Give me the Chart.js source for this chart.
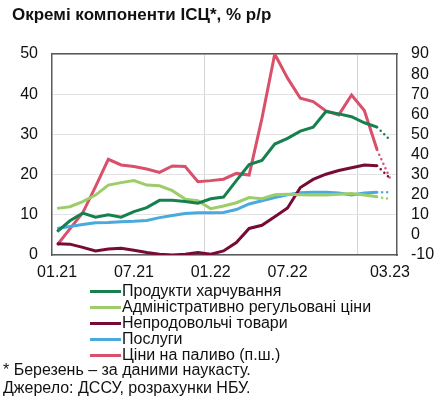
<!DOCTYPE html>
<html>
<head>
<meta charset="utf-8">
<script src="https://cdn.jsdelivr.net/npm/chart.js@4"></script>
<style>
  body { margin: 0; background: #fff; font-family: "Liberation Sans", Arial, sans-serif; color: #111; }
  #wrap { position: relative; width: 437px; height: 398px; }
  #title { position: absolute; left: 12px; top: 5px; font-size: 17px; font-weight: bold; line-height: 20px; }
  #box { position: absolute; left: 0; top: 0; width: 437px; height: 285px; }
  #legend { position: absolute; left: 90px; top: 283px; font-size: 16px; line-height: 16.1px; }
  #legend div { display: flex; align-items: center; }
  #legend span.sw { display: inline-block; width: 31px; height: 3px; margin-right: 1px; }
  .note { position: absolute; left: 3px; font-size: 16px; line-height: 18px; }
</style>
</head>
<body>
<div id="wrap">
  <div id="box"><canvas id="cpi_chart"></canvas></div>
  <div id="title">Окремі компоненти ІСЦ*, % р/р</div>
  <div id="legend"></div>
  <div class="note" style="top:361px">* Березень – за даними наукасту.</div>
  <div class="note" style="top:379px">Джерело: ДССУ, розрахунки НБУ.</div>
</div>
<script>
const months = [
  '01.21', '02.21', '03.21', '04.21', '05.21', '06.21', '07.21', '08.21', '09.21',
  '10.21', '11.21', '12.21', '01.22', '02.22', '03.22', '04.22', '05.22', '06.22',
  '07.22', '08.22', '09.22', '10.22', '11.22', '12.22', '01.23', '02.23', '03.23'
];
const shown_ticks = [0, 6, 12, 18, 26];
const year_lines = [11.5, 23.5];

// left axis, % y/y
const food = [5.8, 8.5, 10.4, 9.4, 10.0, 9.4, 10.8, 11.8, 13.6, 13.6, 13.3, 12.9, 14.0, 14.4, 18.5, 22.5, 23.5, 27.6, 29.0, 30.8, 31.8, 35.7, 35.1, 34.4, 32.9, 31.8, 28.6];
const admin = [11.6, 12.0, 13.3, 14.9, 17.4, 18.0, 18.5, 17.4, 17.2, 16.0, 13.9, 13.5, 11.5, 12.2, 13.0, 14.3, 14.0, 15.0, 15.1, 15.0, 14.9, 14.9, 15.1, 15.3, 14.9, 14.5, 13.9];
const nonfood = [2.8, 2.7, 1.9, 1.0, 1.5, 1.7, 1.2, 0.6, 0.2, 0.0, 0.2, 0.6, 0.2, 1.0, 3.1, 6.6, 7.4, 9.5, 11.7, 16.8, 18.8, 20.1, 21.0, 21.7, 22.4, 22.2, 19.1];
const services = [6.6, 7.1, 7.6, 8.0, 8.1, 8.3, 8.4, 8.6, 9.3, 9.8, 10.3, 10.5, 10.5, 10.6, 11.3, 12.7, 13.5, 14.3, 15.0, 15.5, 15.6, 15.6, 15.4, 14.9, 15.4, 15.6, 15.6];
// right axis
const fuel = [-5, 3, 11, 24, 37.6, 34.8, 34, 32.8, 31.1, 34.3, 34, 26.5, 27, 27.7, 30.6, 29.8, 58, 90, 78, 68, 66.3, 61.7, 59.7, 69.6, 61.9, 42.2, 28.2];

const series = [
  { label: 'Продукти харчування', values: food, color: '#17804f', axis: 'y' },
  { label: 'Адміністративно регульовані ціни', values: admin, color: '#9ccd68', axis: 'y' },
  { label: 'Непродовольчі товари', values: nonfood, color: '#780b35', axis: 'y' },
  { label: 'Послуги', values: services, color: '#4aaade', axis: 'y' },
  { label: 'Ціни на паливо (п.ш.)', values: fuel, color: '#d9506b', axis: 'y1' }
];

const last = months.length - 1;
const isNowcast = ctx => ctx.p1DataIndex === last;

const datasets = series.map(s => ({
  label: s.label,
  data: s.values.map((v, i) => ({ x: i, y: v })),
  yAxisID: s.axis,
  borderColor: s.color,
  borderWidth: 3,
  pointRadius: 0,
  tension: 0,
  segment: {
    borderDash: ctx => isNowcast(ctx) ? [0, 5] : undefined,
    borderCapStyle: ctx => isNowcast(ctx) ? 'round' : undefined,
    borderWidth: ctx => isNowcast(ctx) ? 2.5 : undefined
  }
}));

const tick_font = { family: '"Liberation Sans", Arial, sans-serif', size: 16 };
const frame = '#5a5a5a';

const config = {
  type: 'line',
  data: { datasets: datasets },
  options: {
    responsive: true,
    maintainAspectRatio: false,
    animation: false,
    layout: { padding: { top: 54, bottom: 0, left: 0, right: 0 } },
    plugins: { legend: { display: false }, tooltip: { enabled: false } },
    scales: {
      x: {
        type: 'linear',
        min: -0.4,
        max: 26.55,
        afterBuildTicks: scale => { scale.ticks = shown_ticks.map(v => ({ value: v })); },
        afterFit: scale => { scale.height = 30; },
        ticks: {
          autoSkip: false,
          maxRotation: 0,
          padding: 8,
          color: '#111',
          font: tick_font,
          callback: v => months[v]
        },
        grid: { display: false, drawTicks: false },
        border: { display: true, color: frame, width: 1.5 }
      },
      x2: {
        type: 'linear',
        position: 'top',
        min: -0.4,
        max: 26.55,
        afterBuildTicks: scale => { scale.ticks = year_lines.map(v => ({ value: v })); },
        afterFit: scale => { scale.height = 0; },
        ticks: { display: false },
        grid: { color: '#d4d4d4', lineWidth: 1, drawTicks: false },
        border: { display: true, color: frame, width: 1.5 }
      },
      y: {
        position: 'left',
        min: 0,
        max: 50,
        afterFit: scale => { scale.width = 52; },
        ticks: { stepSize: 10, autoSkip: false, padding: 14, color: '#111', font: tick_font },
        grid: { color: '#e3e3e3', lineWidth: 1, drawTicks: false },
        border: { display: true, color: frame, width: 1.5 }
      },
      y1: {
        position: 'right',
        min: -10,
        max: 90,
        afterFit: scale => { scale.width = 40; },
        ticks: { stepSize: 10, autoSkip: false, padding: 14, color: '#111', font: tick_font },
        grid: { display: false, drawTicks: false },
        border: { display: true, color: frame, width: 1.5 }
      }
    }
  }
};

const cpi_chart = new Chart(document.getElementById('cpi_chart'), config);

const legend_box = document.getElementById('legend');
series.forEach(s => {
  const row = document.createElement('div');
  row.innerHTML = '<span class="sw" style="background:' + s.color + '"></span>' + s.label;
  legend_box.appendChild(row);
});
</script>
</body>
</html>
